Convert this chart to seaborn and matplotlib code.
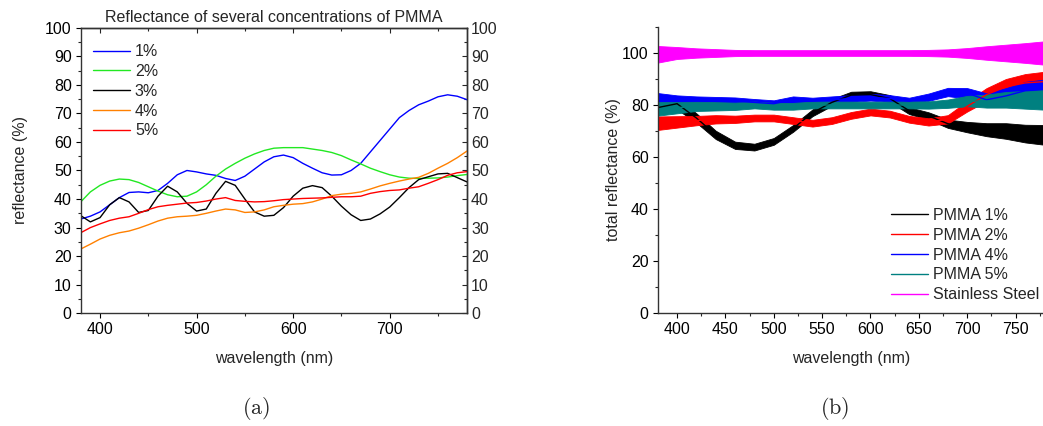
import numpy as np
import pandas as pd
import matplotlib
matplotlib.use("Agg")
import matplotlib.pyplot as plt
import seaborn as sns
from matplotlib.ticker import MultipleLocator

# ---- panel (a): reflectance of several PMMA concentrations ----
wl_a = list(range(380, 781, 10))
pmma_1 = [33.0, 34.0, 35.5, 38.0, 40.5, 42.3, 42.5, 42.2, 43.0, 45.5, 48.5,
          50.0, 49.5, 48.8, 48.3, 47.2, 46.5, 48.0, 50.5, 53.0, 54.8, 55.4,
          54.5, 52.5, 50.8, 49.2, 48.4, 48.5, 50.0, 52.5, 56.5, 60.5, 64.5,
          68.5, 71.0, 73.0, 74.3, 75.8, 76.5, 76.0, 74.8]
pmma_2 = [39.0, 42.5, 44.8, 46.3, 47.0, 46.8, 45.8, 44.3, 42.8, 41.5, 40.8,
          41.0, 42.5, 45.0, 48.0, 50.5, 52.5, 54.3, 55.8, 57.0, 57.8, 58.0,
          58.0, 58.0, 57.5, 57.0, 56.3, 55.2, 53.7, 52.3, 50.8, 49.6, 48.5,
          47.7, 47.3, 47.2, 47.3, 47.4, 47.7, 48.2, 48.6]
pmma_3 = [34.2, 32.0, 33.5, 38.0, 40.5, 39.0, 35.3, 36.0, 41.0, 44.5, 42.5,
          38.5, 35.8, 36.5, 42.0, 46.2, 44.8, 40.0, 35.5, 34.0, 34.3, 37.0,
          41.0, 43.8, 44.7, 44.0, 41.0, 37.5, 34.5, 32.5, 33.0, 34.8, 37.2,
          40.5, 44.0, 46.8, 47.8, 48.8, 49.0, 47.5, 46.0]
pmma_4 = [22.5, 24.2, 26.0, 27.3, 28.2, 28.8, 29.8, 31.0, 32.3, 33.3, 33.8,
          34.0, 34.3, 35.0, 35.8, 36.5, 36.2, 35.3, 35.5, 36.2, 37.3, 37.8,
          38.2, 38.4, 39.0, 40.0, 41.2, 41.7, 42.0, 42.5, 43.5, 44.6, 45.5,
          46.3, 47.0, 47.6, 49.0, 50.8, 52.5, 54.5, 56.8]
pmma_5 = [28.2, 30.0, 31.3, 32.5, 33.3, 33.8, 35.0, 36.3, 37.3, 37.8, 38.2,
          38.6, 38.8, 39.3, 40.0, 40.5, 39.5, 39.2, 39.0, 39.1, 39.4, 39.8,
          40.0, 40.2, 40.3, 40.4, 40.6, 40.8, 40.8, 41.0, 42.0, 42.6, 43.0,
          43.2, 43.8, 44.3, 45.5, 46.8, 48.3, 49.2, 49.6]
labels_a = ["1%", "2%", "3%", "4%", "5%"]
colors_a = ["#0000ff", "#22e822", "#000000", "#ff8000", "#ff0000"]

# ---- panel (b): total reflectance, mean level and noise half-width ----
wl_b = list(range(380, 781, 20))
tot_1 = [79.0, 80.5, 75.0, 68.5, 64.5, 63.8, 66.0, 71.0, 77.0, 81.0, 83.8,
         84.0, 82.5, 77.8, 75.8, 72.8, 71.5, 70.5, 70.0, 69.0, 68.5]
tot_2 = [73.0, 73.5, 74.0, 74.5, 74.5, 75.0, 75.0, 74.0, 73.0, 74.0, 76.0,
         77.3, 76.5, 74.5, 73.5, 74.5, 79.5, 84.0, 87.0, 88.5, 89.0]
tot_4 = [82.0, 81.5, 81.5, 81.5, 81.5, 81.0, 80.5, 82.0, 81.5, 82.0, 82.5,
         83.0, 82.5, 81.5, 83.0, 85.0, 84.5, 82.0, 83.5, 85.5, 86.0]
tot_5 = [78.5, 79.0, 79.5, 79.5, 79.5, 80.0, 79.5, 79.5, 80.0, 80.0, 80.0,
         80.0, 80.0, 80.0, 80.0, 80.5, 81.5, 81.5, 82.0, 82.0, 82.0]
steel = [99.5, 100.0, 100.0, 100.0, 100.0, 100.0, 100.0, 100.0, 100.0, 100.0,
         100.0, 100.0, 100.0, 100.0, 100.0, 100.0, 100.0, 100.0, 100.0, 100.0, 100.0]
noise_pmma = [2.6, 2.2, 1.8, 1.6, 1.4, 1.3, 1.3, 1.3, 1.3, 1.3, 1.3,
              1.3, 1.3, 1.3, 1.4, 1.6, 2.0, 2.5, 3.0, 3.4, 3.8]
noise_steel = [3.2, 2.3, 1.8, 1.5, 1.2, 1.1, 1.1, 1.1, 1.1, 1.1, 1.1,
               1.1, 1.1, 1.1, 1.2, 1.4, 1.9, 2.6, 3.2, 3.8, 4.5]
labels_b = ["PMMA 1%", "PMMA 2%", "PMMA 4%", "PMMA 5%", "Stainless Steel"]
colors_b = ["#000000", "#ff0000", "#0000ff", "#008080", "#ff00ff"]

FS = 11.5

sns.set_style("ticks")
plt.rcParams["font.family"] = ["Liberation Sans", "DejaVu Sans"]
plt.rcParams["mathtext.fontset"] = "cm"
plt.rcParams["axes.linewidth"] = 1.0

fig = plt.figure(figsize=(10.43, 4.26), dpi=100)
ax1 = fig.add_axes([0.0774, 0.2646, 0.3703, 0.6704])
ax2 = fig.add_axes([0.6306, 0.2653, 0.3700, 0.6713])

# panel (a)
df_a = pd.DataFrame({"wavelength": wl_a * 5,
                     "reflectance": pmma_1 + pmma_2 + pmma_3 + pmma_4 + pmma_5,
                     "sample": sum([[lab] * len(wl_a) for lab in labels_a], [])})
sns.lineplot(data=df_a, x="wavelength", y="reflectance", hue="sample",
             palette=dict(zip(labels_a, colors_a)), linewidth=1.0, ax=ax1)
ax1.set_xlim(380, 780)
ax1.set_ylim(0, 100)
ax1.xaxis.set_major_locator(MultipleLocator(100))
ax1.xaxis.set_minor_locator(MultipleLocator(50))
ax1.yaxis.set_major_locator(MultipleLocator(10))
ax1.yaxis.set_minor_locator(MultipleLocator(5))
ax1.tick_params(which="major", direction="out", length=3.5, width=0.8,
                labelsize=FS, colors="black", pad=3)
ax1.tick_params(which="minor", direction="out", length=2.0, width=0.8)
for s in ax1.spines.values():
    s.set_visible(True)
    s.set_color("#333333")
ax1.set_xlabel("wavelength (nm)", fontsize=FS, labelpad=10)
ax1.set_ylabel("reflectance (%)", fontsize=FS, labelpad=12)
ax1.set_title("Reflectance of several concentrations of PMMA", fontsize=FS, pad=4)

top = ax1.secondary_xaxis("top")
top.xaxis.set_major_locator(MultipleLocator(100))
top.xaxis.set_minor_locator(MultipleLocator(50))
top.tick_params(which="major", direction="in", length=3.5, width=0.8, labeltop=False)
top.tick_params(which="minor", direction="in", length=2.0, width=0.8)
right = ax1.secondary_yaxis("right")
right.yaxis.set_major_locator(MultipleLocator(10))
right.yaxis.set_minor_locator(MultipleLocator(5))
right.tick_params(which="major", direction="in", length=3.5, width=0.8,
                  labelsize=FS, pad=3)
right.tick_params(which="minor", direction="in", length=2.0, width=0.8)

h, l = ax1.get_legend_handles_labels()
ax1.legend(h, l, loc="upper left", bbox_to_anchor=(0.012, 0.97), frameon=False,
           fontsize=FS, handlelength=2.3, handletextpad=0.3, labelspacing=0.3,
           borderpad=0)

# panel (b)
for y, lab, col in zip([tot_1, tot_2, tot_4, tot_5, steel], labels_b, colors_b):
    ns = noise_steel if lab == "Stainless Steel" else noise_pmma
    lo = [m - n for m, n in zip(y, ns)]
    hi = [m + n for m, n in zip(y, ns)]
    ax2.fill_between(wl_b, lo, hi, color=col, linewidth=0.6)
    sns.lineplot(x=wl_b, y=y, color=col, linewidth=1.0, label=lab, ax=ax2)
ax2.set_xlim(380, 779)
ax2.set_ylim(0, 110)
ax2.xaxis.set_major_locator(MultipleLocator(50))
ax2.xaxis.set_minor_locator(MultipleLocator(25))
ax2.yaxis.set_major_locator(MultipleLocator(20))
ax2.yaxis.set_minor_locator(MultipleLocator(10))
ax2.tick_params(which="major", direction="out", length=3.5, width=0.8,
                labelsize=FS, colors="black", pad=3)
ax2.tick_params(which="minor", direction="out", length=2.0, width=0.8)
sns.despine(ax=ax2)
for s in ["left", "bottom"]:
    ax2.spines[s].set_color("#333333")
ax2.set_xlabel("wavelength (nm)", fontsize=FS, labelpad=10)
ax2.set_ylabel("total reflectance (%)", fontsize=FS, labelpad=1)
h, l = ax2.get_legend_handles_labels()
ax2.legend(h, l, loc="upper left", bbox_to_anchor=(0.585, 0.395), frameon=False,
           fontsize=FS, handlelength=2.3, handletextpad=0.3, labelspacing=0.3,
           borderpad=0)

fig.text(0.2455, 0.042, r"$\mathrm{(a)}$", ha="center", va="center", fontsize=16)
fig.text(0.8005, 0.042, r"$\mathrm{(b)}$", ha="center", va="center", fontsize=16)

fig.savefig("out.png", dpi=100)
